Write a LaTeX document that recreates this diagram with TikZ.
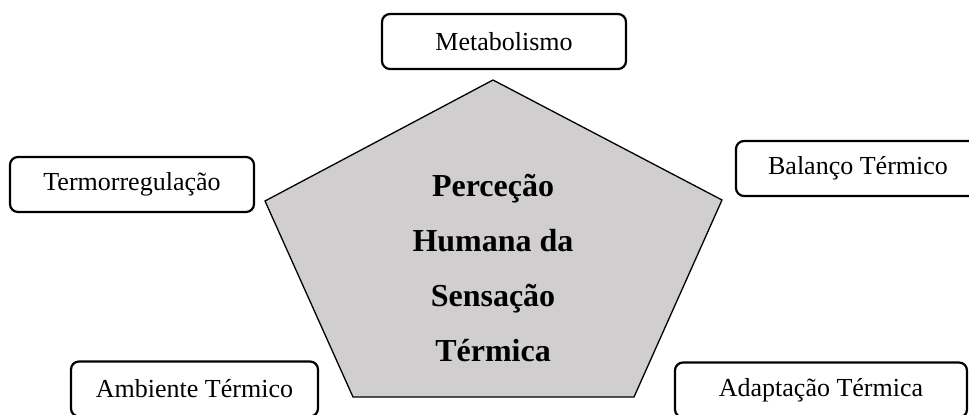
\documentclass[tikz,border=0pt]{standalone}
\usepackage{fontspec}
\setmainfont{Liberation Serif}
\usetikzlibrary{positioning}
\tikzset{
    every node/.style={font=\fontsize{13}{15}\selectfont},
    factor node/.style={draw,line width=1.1pt,rounded corners=4pt,minimum height=27.5pt,inner sep=0pt},
    core node/.style={font=\fontsize{16}{27.5}\selectfont\bfseries,align=center}
}
\definecolor{coregray}{RGB}{208,206,206}

\begin{document}
\begin{tikzpicture}[x=0.5pt,y=-0.5pt]
    \useasboundingbox (0,0) rectangle (969,415);

    % pentagon
    \coordinate (p1) at (493,80);
    \coordinate (p2) at (722,200);
    \coordinate (p3) at (634,397);
    \coordinate (p4) at (353,397);
    \coordinate (p5) at (265,201);
    \draw[fill=coregray,line width=0.65pt] (p1) -- (p2) -- (p3) -- (p4) -- (p5) -- cycle;
    \node[core node] (c) at (493,268) {Perceção\\Humana da\\Sensação\\Térmica};

    % factors
    \node[factor node,minimum width=122pt] (1) at (504,41.5) {Metabolismo};
    \node[factor node,minimum width=122pt] (2) at (858,168.5) {Balanço Térmico};
    \node[factor node,minimum width=146pt] (3) at (821,390) {Adaptação Térmica};
    \node[factor node,minimum width=123.5pt] (4) at (194.5,389) {Ambiente Térmico};
    \node[factor node,minimum width=122pt] (5) at (132,184.5) {Termorregulação};
\end{tikzpicture}
\end{document}
